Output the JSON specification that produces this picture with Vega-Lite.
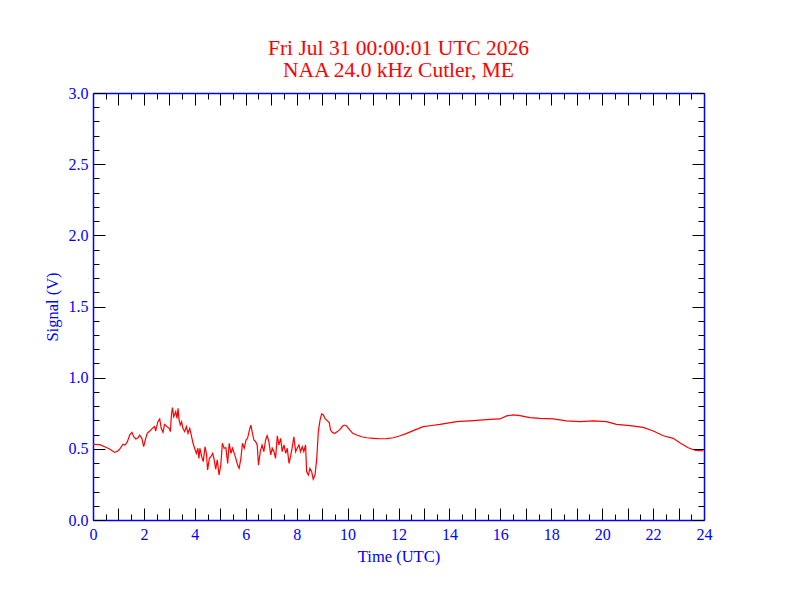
{
  "$schema": "https://vega.github.io/schema/vega-lite/v6.json",
  "autosize": "none",
  "padding": {"left": 93, "top": 93, "right": 88, "bottom": 92},
  "width": 611,
  "height": 427,
  "background": "white",
  "title": {
    "text": ["Fri Jul 31 00:00:01 UTC 2026", "NAA 24.0 kHz Cutler, ME"],
    "color": "#ff0000",
    "font": "Liberation Serif",
    "fontSize": 21.5,
    "fontWeight": "normal",
    "lineHeight": 22,
    "anchor": "middle",
    "offset": 4
  },
  "data": {
    "values": [
      {"t": 0.00, "v": 0.532}, {"t": 0.26, "v": 0.529}, {"t": 0.46, "v": 0.515}, {"t": 0.65, "v": 0.499},
      {"t": 0.85, "v": 0.475}, {"t": 0.98, "v": 0.485}, {"t": 1.07, "v": 0.504}, {"t": 1.18, "v": 0.532},
      {"t": 1.26, "v": 0.527}, {"t": 1.35, "v": 0.550}, {"t": 1.44, "v": 0.597}, {"t": 1.53, "v": 0.616},
      {"t": 1.60, "v": 0.585}, {"t": 1.68, "v": 0.569}, {"t": 1.77, "v": 0.578}, {"t": 1.83, "v": 0.597},
      {"t": 1.92, "v": 0.574}, {"t": 1.99, "v": 0.515}, {"t": 2.07, "v": 0.574}, {"t": 2.13, "v": 0.609},
      {"t": 2.23, "v": 0.625}, {"t": 2.33, "v": 0.644}, {"t": 2.42, "v": 0.656}, {"t": 2.46, "v": 0.625},
      {"t": 2.55, "v": 0.691}, {"t": 2.62, "v": 0.710}, {"t": 2.68, "v": 0.644}, {"t": 2.75, "v": 0.616},
      {"t": 2.81, "v": 0.672}, {"t": 2.91, "v": 0.656}, {"t": 2.99, "v": 0.644}, {"t": 3.04, "v": 0.621},
      {"t": 3.08, "v": 0.738}, {"t": 3.12, "v": 0.789}, {"t": 3.17, "v": 0.726}, {"t": 3.25, "v": 0.761},
      {"t": 3.30, "v": 0.714}, {"t": 3.34, "v": 0.785}, {"t": 3.38, "v": 0.703}, {"t": 3.43, "v": 0.667},
      {"t": 3.48, "v": 0.691}, {"t": 3.53, "v": 0.644}, {"t": 3.60, "v": 0.621}, {"t": 3.67, "v": 0.656},
      {"t": 3.73, "v": 0.609}, {"t": 3.80, "v": 0.644}, {"t": 3.86, "v": 0.597}, {"t": 3.93, "v": 0.539},
      {"t": 3.99, "v": 0.504}, {"t": 4.06, "v": 0.468}, {"t": 4.12, "v": 0.504}, {"t": 4.16, "v": 0.433},
      {"t": 4.20, "v": 0.504}, {"t": 4.27, "v": 0.445}, {"t": 4.33, "v": 0.410}, {"t": 4.40, "v": 0.515},
      {"t": 4.46, "v": 0.462}, {"t": 4.50, "v": 0.351}, {"t": 4.57, "v": 0.433}, {"t": 4.63, "v": 0.445},
      {"t": 4.70, "v": 0.468}, {"t": 4.75, "v": 0.433}, {"t": 4.82, "v": 0.358}, {"t": 4.88, "v": 0.422},
      {"t": 4.95, "v": 0.316}, {"t": 5.02, "v": 0.386}, {"t": 5.08, "v": 0.539}, {"t": 5.15, "v": 0.504},
      {"t": 5.22, "v": 0.508}, {"t": 5.29, "v": 0.398}, {"t": 5.35, "v": 0.539}, {"t": 5.42, "v": 0.468},
      {"t": 5.48, "v": 0.504}, {"t": 5.55, "v": 0.468}, {"t": 5.61, "v": 0.433}, {"t": 5.68, "v": 0.386},
      {"t": 5.74, "v": 0.363}, {"t": 5.81, "v": 0.433}, {"t": 5.87, "v": 0.539}, {"t": 5.94, "v": 0.504},
      {"t": 6.01, "v": 0.562}, {"t": 6.07, "v": 0.574}, {"t": 6.16, "v": 0.644}, {"t": 6.20, "v": 0.667},
      {"t": 6.25, "v": 0.621}, {"t": 6.32, "v": 0.562}, {"t": 6.39, "v": 0.550}, {"t": 6.45, "v": 0.527},
      {"t": 6.50, "v": 0.386}, {"t": 6.57, "v": 0.480}, {"t": 6.64, "v": 0.527}, {"t": 6.71, "v": 0.480},
      {"t": 6.78, "v": 0.562}, {"t": 6.84, "v": 0.592}, {"t": 6.91, "v": 0.550}, {"t": 6.98, "v": 0.457},
      {"t": 7.04, "v": 0.504}, {"t": 7.11, "v": 0.480}, {"t": 7.17, "v": 0.433}, {"t": 7.24, "v": 0.592},
      {"t": 7.30, "v": 0.527}, {"t": 7.37, "v": 0.574}, {"t": 7.43, "v": 0.480}, {"t": 7.50, "v": 0.527},
      {"t": 7.57, "v": 0.468}, {"t": 7.63, "v": 0.504}, {"t": 7.70, "v": 0.398}, {"t": 7.76, "v": 0.445},
      {"t": 7.83, "v": 0.515}, {"t": 7.89, "v": 0.585}, {"t": 7.96, "v": 0.480}, {"t": 8.02, "v": 0.504},
      {"t": 8.09, "v": 0.527}, {"t": 8.15, "v": 0.480}, {"t": 8.22, "v": 0.515}, {"t": 8.28, "v": 0.480},
      {"t": 8.35, "v": 0.527}, {"t": 8.39, "v": 0.340}, {"t": 8.46, "v": 0.316}, {"t": 8.52, "v": 0.363},
      {"t": 8.59, "v": 0.340}, {"t": 8.65, "v": 0.286}, {"t": 8.72, "v": 0.316}, {"t": 8.79, "v": 0.433},
      {"t": 8.85, "v": 0.621}, {"t": 8.92, "v": 0.703}, {"t": 8.98, "v": 0.745}, {"t": 9.05, "v": 0.738},
      {"t": 9.11, "v": 0.714}, {"t": 9.20, "v": 0.698}, {"t": 9.28, "v": 0.684}, {"t": 9.33, "v": 0.632},
      {"t": 9.41, "v": 0.614}, {"t": 9.50, "v": 0.609}, {"t": 9.60, "v": 0.621}, {"t": 9.70, "v": 0.637},
      {"t": 9.81, "v": 0.660}, {"t": 9.87, "v": 0.667}, {"t": 9.96, "v": 0.660}, {"t": 10.07, "v": 0.637},
      {"t": 10.20, "v": 0.609}, {"t": 10.36, "v": 0.597}, {"t": 10.55, "v": 0.585}, {"t": 10.75, "v": 0.578},
      {"t": 11.01, "v": 0.574}, {"t": 11.27, "v": 0.571}, {"t": 11.53, "v": 0.572}, {"t": 11.80, "v": 0.578},
      {"t": 12.06, "v": 0.592}, {"t": 12.32, "v": 0.609}, {"t": 12.58, "v": 0.628}, {"t": 12.97, "v": 0.656},
      {"t": 13.30, "v": 0.664}, {"t": 13.63, "v": 0.672}, {"t": 14.28, "v": 0.691}, {"t": 14.94, "v": 0.698},
      {"t": 15.59, "v": 0.707}, {"t": 15.98, "v": 0.710}, {"t": 16.25, "v": 0.731}, {"t": 16.51, "v": 0.738},
      {"t": 16.77, "v": 0.733}, {"t": 17.16, "v": 0.719}, {"t": 17.55, "v": 0.714}, {"t": 18.08, "v": 0.710},
      {"t": 18.60, "v": 0.696}, {"t": 19.13, "v": 0.691}, {"t": 19.65, "v": 0.696}, {"t": 20.17, "v": 0.691},
      {"t": 20.56, "v": 0.672}, {"t": 21.09, "v": 0.663}, {"t": 21.61, "v": 0.651}, {"t": 22.01, "v": 0.625},
      {"t": 22.40, "v": 0.592}, {"t": 22.79, "v": 0.574}, {"t": 23.05, "v": 0.543}, {"t": 23.38, "v": 0.508},
      {"t": 23.64, "v": 0.490}, {"t": 23.97, "v": 0.485}
    ]
  },
  "layer": [
    {
      "mark": {"type": "line", "color": "#ff0000", "strokeWidth": 1.2, "clip": true},
      "encoding": {
        "x": {
          "field": "t",
          "type": "quantitative",
          "scale": {"domain": [0, 24], "nice": false, "zero": false},
          "axis": {
            "orient": "bottom",
            "grid": false,
            "title": "Time (UTC)",
            "titleColor": "#0000ff",
            "titleFont": "Liberation Serif",
            "titleFontSize": 16.5,
            "titleFontWeight": "normal",
            "titlePadding": 0,
            "values": [0, 0.5, 1, 1.5, 2, 2.5, 3, 3.5, 4, 4.5, 5, 5.5, 6, 6.5, 7, 7.5, 8, 8.5, 9, 9.5, 10, 10.5, 11, 11.5, 12, 12.5, 13, 13.5, 14, 14.5, 15, 15.5, 16, 16.5, 17, 17.5, 18, 18.5, 19, 19.5, 20, 20.5, 21, 21.5, 22, 22.5, 23, 23.5, 24],
            "labelExpr": "datum.value % 2 === 0 ? format(datum.value, 'd') : ''",
            "labelColor": "#0000ff",
            "labelFont": "Liberation Serif",
            "labelFontSize": 16,
            "labelOverlap": false,
            "labelFlush": false,
            "labelBound": false,
            "labelPadding": 18,
            "domainColor": "#0000ff",
            "domainWidth": 1.5,
            "tickColor": "#000000",
            "tickWidth": 1,
            "tickSize": {"condition": {"test": "datum.value % 1 === 0", "value": -12}, "value": -6}
          }
        },
        "y": {
          "field": "v",
          "type": "quantitative",
          "scale": {"domain": [0, 3], "nice": false},
          "axis": {
            "orient": "left",
            "grid": false,
            "title": "Signal (V)",
            "titleColor": "#0000ff",
            "titleFont": "Liberation Serif",
            "titleFontSize": 16.5,
            "titleFontWeight": "normal",
            "titlePadding": 8,
            "values": [0, 0.1, 0.2, 0.3, 0.4, 0.5, 0.6, 0.7, 0.8, 0.9, 1, 1.1, 1.2, 1.3, 1.4, 1.5, 1.6, 1.7, 1.8, 1.9, 2, 2.1, 2.2, 2.3, 2.4, 2.5, 2.6, 2.7, 2.8, 2.9, 3],
            "labelExpr": "abs(datum.value * 2 - round(datum.value * 2)) < 0.01 ? format(datum.value, '.1f') : ''",
            "labelColor": "#0000ff",
            "labelFont": "Liberation Serif",
            "labelFontSize": 16,
            "labelOverlap": false,
            "labelFlush": false,
            "labelBound": false,
            "labelPadding": 17,
            "domainColor": "#0000ff",
            "domainWidth": 1.5,
            "tickColor": "#000000",
            "tickWidth": 1,
            "tickSize": {"condition": {"test": "abs(datum.value * 2 - round(datum.value * 2)) < 0.01", "value": -12}, "value": -6}
          }
        }
      }
    },
    {
      "mark": {"type": "line", "opacity": 0},
      "encoding": {
        "x": {
          "field": "t",
          "type": "quantitative",
          "scale": {"domain": [0, 24], "nice": false, "zero": false},
          "axis": {
            "orient": "top",
            "grid": false,
            "title": null,
            "labels": false,
            "values": [0, 0.5, 1, 1.5, 2, 2.5, 3, 3.5, 4, 4.5, 5, 5.5, 6, 6.5, 7, 7.5, 8, 8.5, 9, 9.5, 10, 10.5, 11, 11.5, 12, 12.5, 13, 13.5, 14, 14.5, 15, 15.5, 16, 16.5, 17, 17.5, 18, 18.5, 19, 19.5, 20, 20.5, 21, 21.5, 22, 22.5, 23, 23.5, 24],
            "domainColor": "#0000ff",
            "domainWidth": 1.5,
            "tickColor": "#000000",
            "tickWidth": 1,
            "tickSize": {"condition": {"test": "datum.value % 1 === 0", "value": -12}, "value": -6}
          }
        },
        "y": {
          "field": "v",
          "type": "quantitative",
          "scale": {"domain": [0, 3], "nice": false},
          "axis": {
            "orient": "right",
            "grid": false,
            "title": null,
            "labels": false,
            "values": [0, 0.1, 0.2, 0.3, 0.4, 0.5, 0.6, 0.7, 0.8, 0.9, 1, 1.1, 1.2, 1.3, 1.4, 1.5, 1.6, 1.7, 1.8, 1.9, 2, 2.1, 2.2, 2.3, 2.4, 2.5, 2.6, 2.7, 2.8, 2.9, 3],
            "domainColor": "#0000ff",
            "domainWidth": 1.5,
            "tickColor": "#000000",
            "tickWidth": 1,
            "tickSize": {"condition": {"test": "abs(datum.value * 2 - round(datum.value * 2)) < 0.01", "value": -12}, "value": -6}
          }
        }
      }
    }
  ],
  "resolve": {"axis": {"x": "independent", "y": "independent"}},
  "config": {"view": {"stroke": null}}
}
